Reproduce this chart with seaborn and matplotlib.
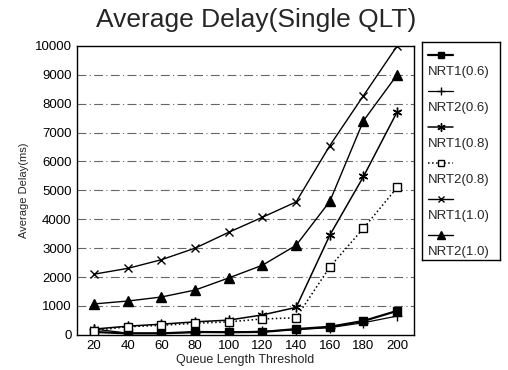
import matplotlib
matplotlib.use("Agg")
import matplotlib.pyplot as plt
import seaborn as sns
import pandas as pd
from matplotlib.lines import Line2D

thresholds = [20, 40, 60, 80, 100, 120, 140, 160, 180, 200]
nrt1_06 = [100, 50, 50, 100, 90, 100, 200, 280, 480, 830]
nrt2_06 = [200, 60, 60, 80, 100, 120, 180, 250, 420, 650]
nrt1_08 = [200, 300, 370, 450, 510, 690, 950, 3450, 5480, 7720]
nrt2_08 = [150, 280, 330, 400, 450, 550, 590, 2350, 3690, 5100]
nrt1_10 = [2100, 2300, 2600, 3000, 3550, 4070, 4600, 6550, 8280, 10000]
nrt2_10 = [1070, 1170, 1310, 1550, 1970, 2410, 3100, 4620, 7410, 9000]
series_names = ["NRT1(0.6)", "NRT2(0.6)", "NRT1(0.8)", "NRT2(0.8)", "NRT1(1.0)", "NRT2(1.0)"]
yticks = [0, 1000, 2000, 3000, 4000, 5000, 6000, 7000, 8000, 9000, 10000]

series_vals = [nrt1_06, nrt2_06, nrt1_08, nrt2_08, nrt1_10, nrt2_10]
styles = {
    "NRT1(0.6)": dict(marker="s", ls="-", mfc="black", ms=6, lw=1.6),
    "NRT2(0.6)": dict(marker="+", ls="-", mfc="black", ms=7, lw=0.9),
    "NRT1(0.8)": dict(marker=(6, 2, 0), ls="-", mfc="black", ms=7, lw=1.1),
    "NRT2(0.8)": dict(marker="s", ls=":", mfc="white", ms=6, lw=1.1),
    "NRT1(1.0)": dict(marker="x", ls="-", mfc="black", ms=6, lw=1.0),
    "NRT2(1.0)": dict(marker="^", ls="-", mfc="black", ms=7, lw=1.0),
}

df = pd.DataFrame({
    "x": thresholds * len(series_names),
    "y": [v for vals in series_vals for v in vals],
    "series": [n for n in series_names for _ in thresholds],
})

sns.set_style("white")
plt.rcParams["font.family"] = ["Liberation Sans", "DejaVu Sans"]

fig = plt.figure(figsize=(5.08, 3.70), dpi=100)
ax = fig.add_axes([0.152, 0.095, 0.663, 0.781])

for name in series_names:
    st = styles[name]
    sub = df[df["series"] == name]
    sns.lineplot(data=sub, x="x", y="y", ax=ax, color="black", linestyle=st["ls"],
                 linewidth=st["lw"], marker=st["marker"], markersize=st["ms"],
                 markerfacecolor=st["mfc"], markeredgecolor="black", markeredgewidth=1.0,
                 legend=False, zorder=3)

ax.set_xlim(10, 210)
ax.set_ylim(0, 10000)
ax.set_xticks(thresholds)
ax.set_yticks(yticks)
ax.tick_params(axis="both", labelsize=9.5, length=2, direction="out", colors="black", pad=2)
for yv in yticks[1:-1]:
    ax.axhline(yv, color="#666666", lw=0.8, ls=(0, (8, 3, 1, 3)), zorder=1)
for sp in ax.spines.values():
    sp.set_color("black")
    sp.set_linewidth(1.0)
ax.set_xlabel("Queue Length Threshold", fontsize=9, labelpad=1)
ax.set_ylabel("Average Delay(ms)", fontsize=8, labelpad=4)
fig.text(0.505, 0.945, "Average Delay(Single QLT)", fontsize=19, ha="center", va="center")

# legend box
lax = fig.add_axes([0.831, 0.297, 0.153, 0.589])
lax.set_xlim(0, 1)
lax.set_ylim(0, 1)
lax.set_xticks([])
lax.set_yticks([])
for sp in lax.spines.values():
    sp.set_color("black")
    sp.set_linewidth(1.0)
box_top, box_h = 42, 218
for i, name in enumerate(series_names):
    st = styles[name]
    hy = 1 - (55 + 36 * i - box_top) / box_h
    ty = 1 - (72 + 36 * i - box_top) / box_h
    lax.add_line(Line2D([0.08, 0.4], [hy, hy], color="black", ls=st["ls"], lw=st["lw"]))
    lax.add_line(Line2D([0.24], [hy], color="black", marker=st["marker"], ms=st["ms"] - 1,
                        mfc=st["mfc"], mec="black", mew=1.0))
    lax.text(0.08, ty, name, fontsize=9.5, ha="left", va="center")

fig.savefig("out.png", dpi=100, facecolor="white")
